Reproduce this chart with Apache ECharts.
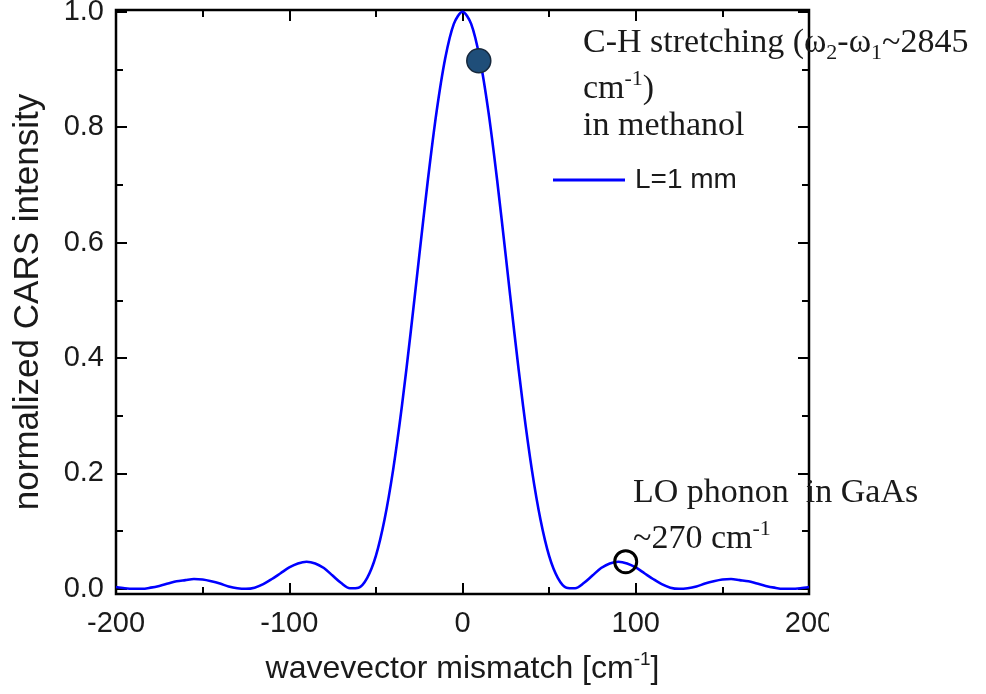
<!DOCTYPE html>
<html>
<head>
<meta charset="utf-8">
<title>CARS phase matching</title>
<script src="https://cdn.jsdelivr.net/npm/echarts@6/dist/echarts.min.js"></script>
<style>
  html, body { margin: 0; padding: 0; background: #fff; }
  #chart { width: 986px; height: 694px; }
</style>
</head>
<body>
<div id="chart"></div>
<script>
// wavevector mismatch samples [cm^-1]
const xValues = [
  -200, -195, -190, -185, -180, -175, -170, -165, -160, -155,
  -150, -145, -140, -135, -130, -125, -120, -115, -110, -105,
  -100, -95, -90, -85, -80, -75, -70, -65, -60, -55,
  -50, -45, -40, -35, -30, -25, -20, -15, -10, -5,
  0,
  5, 10, 15, 20, 25, 30, 35, 40, 45, 50,
  55, 60, 65, 70, 75, 80, 85, 90, 95, 100,
  105, 110, 115, 120, 125, 130, 135, 140, 145, 150,
  155, 160, 165, 170, 175, 180, 185, 190, 195, 200
];

// normalized CARS intensity, L = 1 mm
const intensity = [
  0.003, 0.001, 0.000, 0.000, 0.002, 0.005, 0.009, 0.013, 0.015, 0.017,
  0.016, 0.013, 0.009, 0.004, 0.001, 0.000, 0.002, 0.008, 0.017, 0.027,
  0.037, 0.044, 0.047, 0.044, 0.036, 0.023, 0.010, 0.001, 0.002, 0.019,
  0.057, 0.120, 0.207, 0.316, 0.442, 0.576, 0.708, 0.826, 0.919, 0.979,
  1.000,
  0.979, 0.919, 0.826, 0.708, 0.576, 0.442, 0.316, 0.207, 0.120, 0.057,
  0.019, 0.002, 0.001, 0.010, 0.023, 0.036, 0.044, 0.047, 0.044, 0.037,
  0.027, 0.017, 0.008, 0.002, 0.000, 0.001, 0.004, 0.009, 0.013, 0.016,
  0.017, 0.015, 0.013, 0.009, 0.005, 0.002, 0.000, 0.000, 0.001, 0.003
];

// marked operating points
const methanolPoint = [9.4, 0.915];
const gaasPoint = [94.2, 0.047];

// tick positions
const yMajorTicks = [0, 0.2, 0.4, 0.6, 0.8, 1.0];
const yMinorTicks = [0.1, 0.3, 0.5, 0.7, 0.9];

const seriesName = 'L=1 mm';

const sans = "'Liberation Sans', Arial, sans-serif";
const serif = "'Liberation Serif', 'Times New Roman', serif";
const ink = '#1a1a1a';

const Y_MIN = -0.009;
const Y_MAX = 1.003;

const curve = xValues.map((x, i) => [x, intensity[i]]);

function yAxisDef(position, ticks, len, withLabel) {
  return {
    type: 'value',
    position: position,
    min: Y_MIN,
    max: Y_MAX,
    axisLine: { show: false, onZero: false },
    splitLine: { show: false },
    axisTick: {
      show: true, inside: true, length: len, customValues: ticks,
      lineStyle: { color: '#000', width: 2 }
    },
    axisLabel: withLabel ? {
      show: true, customValues: ticks, margin: 12,
      formatter: v => v.toFixed(1),
      fontSize: 29, fontFamily: sans, color: ink
    } : { show: false },
    name: withLabel ? 'normalized CARS intensity' : '',
    nameLocation: 'middle',
    nameRotate: 90,
    nameGap: 70,
    nameTextStyle: { fontSize: 35, fontFamily: sans, color: ink }
  };
}

function xAxisDef(position, withLabel) {
  return {
    type: 'value',
    position: position,
    min: -200,
    max: 200,
    interval: 100,
    axisLine: { show: false, onZero: false },
    splitLine: { show: false },
    axisTick: { show: true, inside: true, length: 11, lineStyle: { color: '#000', width: 2 } },
    minorTick: { show: true, splitNumber: 2, length: 7, lineStyle: { color: '#000', width: 2 } },
    axisLabel: withLabel ? {
      show: true, margin: 15, fontSize: 29, fontFamily: sans, color: ink
    } : { show: false },
    name: withLabel ? '{a|wavevector mismatch [cm}{s|-1}{a|]}' : '',
    nameLocation: 'middle',
    nameGap: 56,
    nameTextStyle: {
      fontSize: 32, fontFamily: sans, color: ink,
      rich: {
        a: { fontSize: 32, fontFamily: sans, color: ink, lineHeight: 38 },
        s: { fontSize: 19, fontFamily: sans, color: ink, lineHeight: 36, verticalAlign: 'top' }
      }
    }
  };
}

const noteRich = {
  n: { fontFamily: serif, fontSize: 34, lineHeight: 42, fill: ink, color: ink },
  sub: { fontFamily: serif, fontSize: 22, lineHeight: 40, verticalAlign: 'bottom', fill: ink, color: ink },
  sup: { fontFamily: serif, fontSize: 22, lineHeight: 32, verticalAlign: 'top', fill: ink, color: ink }
};

function note(x, y, text) {
  return {
    type: 'text', left: x, top: y, z: 50,
    style: { text: text, rich: noteRich, fill: ink, font: '34px ' + serif }
  };
}

const chart = echarts.init(document.getElementById('chart'), null, { renderer: 'canvas' });

chart.setOption({
  animation: false,
  backgroundColor: '#fff',
  grid: {
    show: true, left: 116, right: 177, top: 10, bottom: 100,
    containLabel: false, outerBoundsMode: 'none',
    borderColor: '#000', borderWidth: 2.5, backgroundColor: 'transparent'
  },
  legend: {
    data: [{ name: seriesName, icon: 'rect' }],
    left: 553, top: 166, padding: 0,
    itemWidth: 72, itemHeight: 3, itemGap: 10,
    itemStyle: { color: '#0000ff' },
    textStyle: { fontSize: 28, fontFamily: sans, color: ink, padding: [0, 0, 0, 5] }
  },
  xAxis: [xAxisDef('bottom', true), xAxisDef('top', false)],
  yAxis: [
    yAxisDef('left', yMajorTicks, 11, true),
    yAxisDef('left', yMinorTicks, 7, false),
    yAxisDef('right', yMajorTicks, 11, false),
    yAxisDef('right', yMinorTicks, 7, false)
  ],
  series: [
    {
      name: seriesName,
      type: 'line',
      data: curve,
      smooth: 0.3,
      symbol: 'none',
      showSymbol: false,
      lineStyle: { color: '#0000ff', width: 2.6 },
      itemStyle: { color: '#0000ff' },
      z: 2
    },
    {
      name: 'methanol',
      type: 'scatter',
      data: [methanolPoint],
      symbol: 'circle',
      symbolSize: 24,
      itemStyle: { color: '#1f4e79', borderColor: '#16283c', borderWidth: 1.5, opacity: 1 },
      z: 4
    },
    {
      name: 'GaAs',
      type: 'scatter',
      data: [gaasPoint],
      symbol: 'circle',
      symbolSize: 22,
      itemStyle: { color: 'rgba(0,0,0,0)', borderColor: '#000', borderWidth: 3, opacity: 1 },
      z: 4
    }
  ],
  graphic: [
    note(583, 26, '{n|C-H stretching (ω}{sub|2}{n|-ω}{sub|1}{n|~2845}'),
    note(583, 68, '{n|cm}{sup|-1}{n|)}'),
    note(583, 109, '{n|in methanol}'),
    note(633, 476, '{n|LO phonon  in GaAs}'),
    note(633, 518, '{n|~270 cm}{sup|-1}'),
    // page edge trims the last x tick label
    { type: 'rect', left: 829, top: 600, z: 100, shape: { width: 157, height: 42 }, style: { fill: '#fff' } }
  ]
});
</script>
</body>
</html>
